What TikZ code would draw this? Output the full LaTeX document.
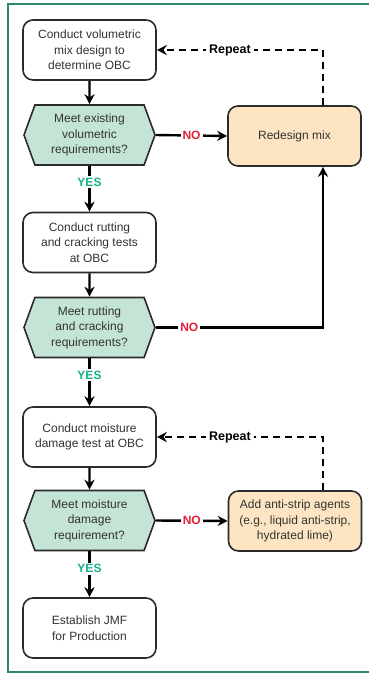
\documentclass[tikz,border=0pt]{standalone}
\usepackage{fontspec}
\setmainfont{Liberation Sans}
\usepackage{tikz}
\usetikzlibrary{positioning}
\usetikzlibrary{arrows.meta}
\usetikzlibrary{shapes.symbols}

\definecolor{framegreen}{HTML}{2A8A70}
\definecolor{boxline}{HTML}{2B2B2B}
\definecolor{textgray}{HTML}{333333}
\definecolor{checkfill}{HTML}{C4E4D6}
\definecolor{fixfill}{HTML}{FDE4C2}
\definecolor{yesgreen}{HTML}{16B088}
\definecolor{nored}{HTML}{E3203A}

\begin{document}
\begin{tikzpicture}[x=1pt, y=-1pt,
    stepbox/.style={draw=boxline, line width=1.6pt, rounded corners=10pt, fill=white,
      minimum width=133pt, minimum height=60pt, align=center, text=textgray,
      font=\fontsize{12}{15.5}\selectfont},
    fixbox/.style={stepbox, fill=fixfill},
    checkbox/.style={draw=boxline, line width=1.6pt, shape=signal, signal to=east and west,
      signal pointer angle=140, fill=checkfill, minimum width=131pt, minimum height=60pt,
      inner xsep=0pt, align=center, text=textgray, font=\fontsize{12}{15.5}\selectfont},
    flow/.style={draw=black, line width=2.4pt, -{Stealth[length=10pt,width=10pt]}},
    loopback/.style={flow, dash pattern=on 7pt off 5pt},
    yeslbl/.style={fill=white, text=yesgreen, inner sep=2pt, font=\bfseries\fontsize{12}{13}\selectfont},
    nolbl/.style={fill=white, text=nored, inner sep=2pt, font=\bfseries\fontsize{12}{13}\selectfont},
    replbl/.style={fill=white, text=black, inner sep=3pt, font=\bfseries\fontsize{12.5}{13}\selectfont}]
  \useasboundingbox (0,0) rectangle (369,675);
  \draw[framegreen, line width=2pt] (369,4) -- (8,4) -- (8,672) -- (369,672);

  % main column
  \node[stepbox] (b1) at (89.5,50) {Conduct volumetric\\mix design to\\determine OBC};
  \node[checkbox] (q1) at (89.5,135) {Meet existing\\volumetric\\requirements?};
  \node[stepbox] (b2) at (89.5,242.5) {Conduct rutting\\and cracking tests\\at OBC};
  \node[checkbox] (q2) at (89.5,327.5) {Meet rutting\\and cracking\\requirements?};
  \node[stepbox] (b3) at (89.5,437) {Conduct moisture\\damage test at OBC};
  \node[checkbox] (q3) at (89.5,520.5) {Meet moisture\\damage\\requirement?};
  \node[stepbox] (b4) at (89.5,628) {Establish JMF\\for Production};

  % fixes
  \node[fixbox] (r1) at (294.5,136) {Redesign mix};
  \node[fixbox] (r2) at (295,521) {Add anti-strip agents\\(e.g., liquid anti-strip,\\hydrated lime)};
  \coordinate (r1top) at ([xshift=28.5pt]r1.north);
  \coordinate (r1bot) at ([xshift=28.5pt]r1.south);
  \coordinate (r2top) at ([xshift=28pt]r2.north);

  \draw[flow] (b1) -- (q1);
  \draw[flow] (q1.south) -- node[yeslbl, pos=0.35] {YES} (b2.north);
  \draw[flow] (b2) -- (q2);
  \draw[flow] (q2.south) -- node[yeslbl, pos=0.35] {YES} (b3.north);
  \draw[flow] (b3) -- (q3);
  \draw[flow] (q3.south) -- node[yeslbl, pos=0.38] {YES} (b4.north);

  \draw[flow] (q1.east) -- node[nolbl] {NO} (r1.west);
  \draw[flow] (q2.east) -- node[nolbl, pos=0.2] {NO} (q2.east -| r1bot) -- (r1bot);
  \draw[flow] (q3.east) -- node[nolbl] {NO} (r2.west);

  \draw[loopback] (r1top) -- (r1top |- b1.east) -- node[replbl, pos=0.56] {Repeat} (b1.east);
  \draw[loopback] (r2top) -- (r2top |- b3.east) -- node[replbl, pos=0.56] {Repeat} (b3.east);
\end{tikzpicture}
\end{document}
